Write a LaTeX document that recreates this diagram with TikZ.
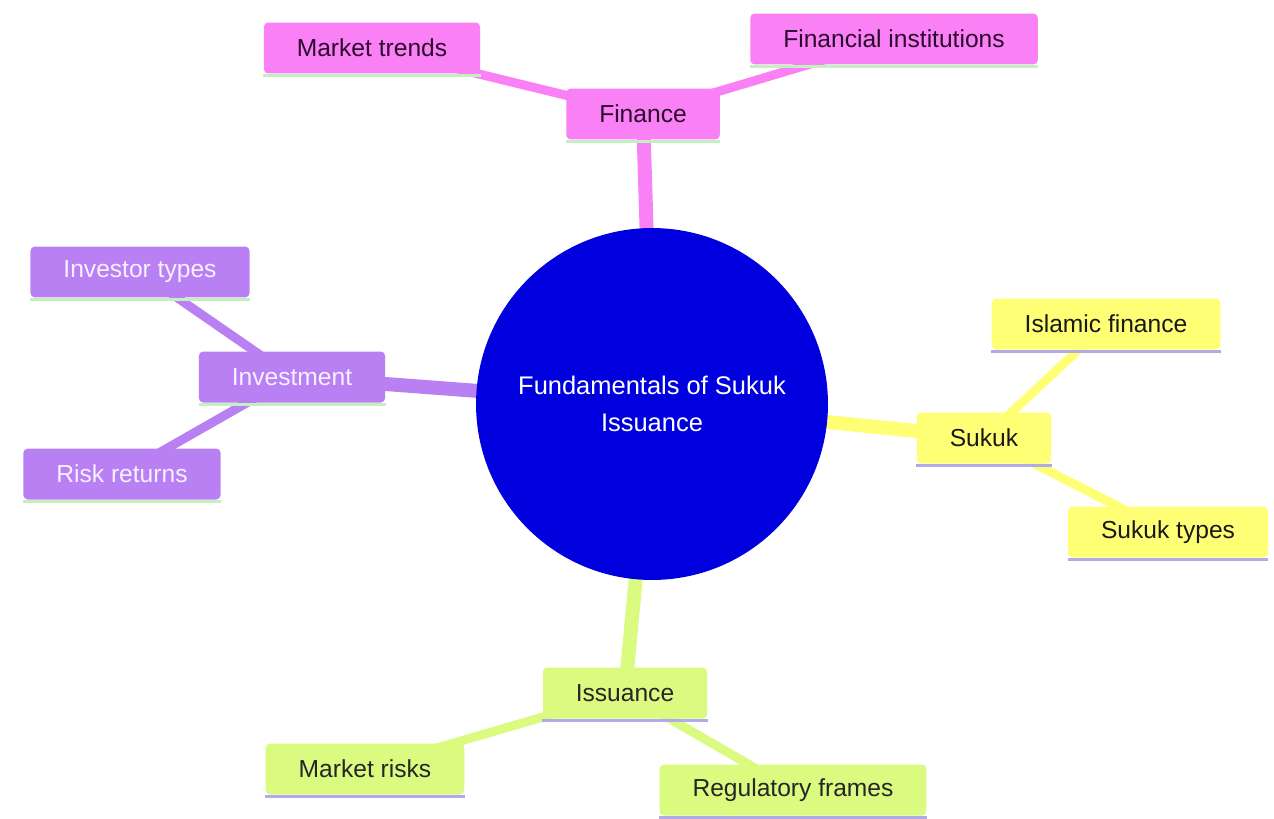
\documentclass[tikz,border=0pt]{standalone}
\usepackage{fontspec}
\setmainfont{Liberation Sans}
\usetikzlibrary{backgrounds}
\definecolor{rootblue}{RGB}{0,0,222}
\definecolor{finpink}{RGB}{250,128,245}
\definecolor{invpurple}{RGB}{184,128,243}
\definecolor{sukyellow}{RGB}{255,255,118}
\definecolor{issgreen}{RGB}{218,250,128}
\definecolor{bargreen}{RGB}{195,240,190}
\definecolor{barlav}{RGB}{178,170,232}
\definecolor{darkpink}{RGB}{45,10,45}
\definecolor{palepurple}{RGB}{248,240,255}
\begin{document}
\begin{tikzpicture}[x=0.02cm,y=-0.02cm,
	box/.style={rounded corners=2.5pt,inner xsep=0.66cm,minimum height=1.02cm,
		font=\fontsize{14}{17}\selectfont},
	finbox/.style={box,fill=finpink,text=darkpink},
	invbox/.style={box,fill=invpurple,text=palepurple},
	sukbox/.style={box,fill=sukyellow,text=black!90},
	issbox/.style={box,fill=issgreen,text=black!85},
	trunk/.style={line width=0.28cm},
	twig/.style={line width=0.18cm},
	bar/.style={line width=0.07cm}]
	\useasboundingbox (0,0) rectangle (1274,818);
	% centre
	\node[circle,fill=rootblue,minimum size=7.04cm,text=white,align=center,
		font=\fontsize{14.5}{21.5}\selectfont] (root) at (652,404) {Fundamentals of Sukuk\\Issuance};
	% first ring
	\node[finbox] (fin) at (643,114) {Finance};
	\node[invbox] (inv) at (292,377) {Investment};
	\node[sukbox] (suk) at (984,438) {Sukuk};
	\node[issbox] (iss) at (625,693) {Issuance};
	% leaves
	\node[finbox] (trend) at (372,48) {Market trends};
	\node[finbox] (inst) at (894,39) {Financial institutions};
	\node[invbox] (itype) at (140,272) {Investor types};
	\node[invbox] (risk) at (122,474) {Risk returns};
	\node[sukbox] (islam) at (1106,324) {Islamic finance};
	\node[sukbox] (stype) at (1168,532) {Sukuk types};
	\node[issbox] (mrisk) at (365,769) {Market risks};
	\node[issbox] (reg) at (793,790) {Regulatory frames};
	% underlines
	\foreach \n in {fin,inv,trend,inst,itype,risk}
		\draw[bar,bargreen] ([yshift=-0.03cm]\n.south west)--([yshift=-0.03cm]\n.south east);
	\foreach \n in {suk,iss,islam,stype,mrisk,reg}
		\draw[bar,barlav] ([yshift=-0.03cm]\n.south west)--([yshift=-0.03cm]\n.south east);
	\begin{pgfonlayer}{background}
		\draw[trunk,finpink] (root.center)--(fin.center);
		\draw[trunk,invpurple] (root.center)--(inv.center);
		\draw[trunk,sukyellow] (root.center)--(suk.center);
		\draw[trunk,issgreen] (root.center)--(iss.center);
		\draw[twig,finpink] (fin.center)--(trend.center) (fin.center)--(inst.center);
		\draw[twig,invpurple] (inv.center)--(itype.center) (inv.center)--(risk.center);
		\draw[twig,sukyellow] (suk.center)--(islam.center) (suk.center)--(stype.center);
		\draw[twig,issgreen] (iss.center)--(mrisk.center) (iss.center)--(reg.center);
	\end{pgfonlayer}
\end{tikzpicture}
\end{document}
